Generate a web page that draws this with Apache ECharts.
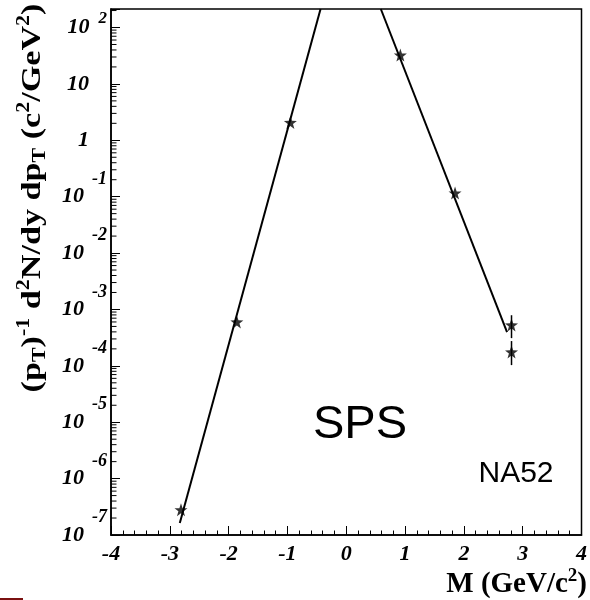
<!DOCTYPE html>
<html>
<head>
<meta charset="utf-8">
<script src="https://cdn.jsdelivr.net/npm/echarts@6/dist/echarts.min.js"></script>
<style>
  html, body { margin: 0; padding: 0; background: #fff; }
  #chart { width: 590px; height: 600px; }
</style>
</head>
<body>
<div id="chart"></div>
<script>
// Measured points, negative M side
const leftM = [-2.81, -1.86, -0.95];
const leftYield = [2.8e-7, 6.0e-4, 2.07];
// Measured points, positive M side
const rightM = [0.92, 1.85, 2.81, 2.81];
const rightYield = [32.4, 0.116, 5.3e-4, 1.76e-4];
// Vertical error bars on the last two points
const errM = [2.81, 2.81];
const errLow = [3.1e-4, 1.03e-4];
const errHigh = [7.9e-4, 2.75e-4];
// Exponential fits (straight lines on the log scale), end points
const fitLeftM = [-2.83, -0.437];
const fitLeftY = [1.63e-7, 213];
const fitRightM = [0.588, 2.734];
const fitRightY = [213, 3.98e-4];
// Axis ranges
const xMin = -4, xMax = 4;
const yMin = 1e-7, yMax = 213;

const SERIF = "'Liberation Serif', 'DejaVu Serif', serif";
const SANS = "'Liberation Sans', Arial, sans-serif";

// log-spaced minor tick values (2..9 x 10^n)
const minorTicks = [];
for (let e = -7; e <= 2; e++) {
  for (let k = 2; k <= 9; k++) {
    const v = k * Math.pow(10, e);
    if (v < yMax) minorTicks.push([xMin, v]);
  }
}

const STAR = 'path://M0,-10 L2.35,-3.24 L9.51,-3.09 L3.8,1.24 L5.88,8.09 L0,4 L-5.88,8.09 L-3.8,1.24 L-9.51,-3.09 L-2.35,-3.24 Z';

const tickFont = { fontFamily: SERIF, fontWeight: 'bold', fontStyle: 'italic', color: '#000' };

const chart = echarts.init(document.getElementById('chart'), null, { renderer: 'canvas' });

chart.setOption({
  backgroundColor: '#fff',
  animation: false,
  grid: {
    left: 111, top: 9, right: 3, bottom: 65,
    show: true, borderColor: '#000', borderWidth: 1.5, backgroundColor: 'transparent'
  },
  xAxis: {
    type: 'value', min: xMin, max: xMax, interval: 1,
    axisLine: { show: true, onZero: false, lineStyle: { color: '#000', width: 1.5 } },
    axisTick: { show: true, inside: true, length: 9, lineStyle: { color: '#000', width: 1 } },
    minorTick: { show: true, splitNumber: 5, length: 4.5, lineStyle: { color: '#000', width: 1 } },
    splitLine: { show: false },
    axisLabel: Object.assign({ fontSize: 22, margin: 8 }, tickFont)
  },
  yAxis: {
    type: 'log', logBase: 10, min: yMin, max: yMax,
    axisLine: { show: true, onZero: false, lineStyle: { color: '#000', width: 1.5 } },
    axisTick: { show: true, inside: true, length: 9, lineStyle: { color: '#000', width: 1 } },
    splitLine: { show: false },
    axisLabel: Object.assign({
      fontSize: 22, margin: 4,
      formatter: function (v) {
        const l = Math.log10(v);
        const e = Math.round(l);
        if (Math.abs(l - e) > 1e-6) return '';
        if (e === 0) return '{p|1}';
        if (e === 1) return '{p|10}';
        return '{b|10}{' + (e < 0 ? 'n' : 's') + '|' + e + '}';
      },
      rich: {
        b: Object.assign({ fontSize: 22 }, tickFont),
        p: Object.assign({ fontSize: 22, padding: [0, 18, 0, 0] }, tickFont),
        n: Object.assign({ fontSize: 18, padding: [0, 0, 35, 8] }, tickFont),
        s: Object.assign({ fontSize: 17, padding: [0, 0, 18, 9] }, tickFont)
      }
    }, tickFont)
  },
  series: [
    {
      name: 'minor y ticks', type: 'custom', silent: true, clip: false,
      data: minorTicks,
      renderItem: function (params, api) {
        const p = api.coord([api.value(0), api.value(1)]);
        return {
          type: 'line',
          shape: { x1: p[0], y1: p[1], x2: p[0] + 5.5, y2: p[1] },
          style: { stroke: '#000', lineWidth: 1 }
        };
      }
    },
    {
      name: 'fit left', type: 'line', clip: true, symbol: 'none',
      data: fitLeftM.map((m, i) => [m, fitLeftY[i]]),
      lineStyle: { color: '#000', width: 2 }
    },
    {
      name: 'fit right', type: 'line', clip: true, symbol: 'none',
      data: fitRightM.map((m, i) => [m, fitRightY[i]]),
      lineStyle: { color: '#000', width: 2 }
    },
    {
      name: 'errors', type: 'custom', silent: true,
      data: errM.map((m, i) => [m, errLow[i], errHigh[i]]),
      renderItem: function (params, api) {
        const a = api.coord([api.value(0), api.value(1)]);
        const b = api.coord([api.value(0), api.value(2)]);
        return {
          type: 'line',
          shape: { x1: a[0], y1: a[1], x2: b[0], y2: b[1] },
          style: { stroke: '#000', lineWidth: 1.5 }
        };
      }
    },
    {
      name: 'data left', type: 'scatter', symbol: STAR, symbolSize: 13,
      data: leftM.map((m, i) => [m, leftYield[i]]),
      itemStyle: { color: '#000' }
    },
    {
      name: 'data right', type: 'scatter', symbol: STAR, symbolSize: 13,
      data: rightM.map((m, i) => [m, rightYield[i]]),
      itemStyle: { color: '#000' }
    }
  ],
  graphic: [
    {
      type: 'text', x: 33, y: 198, rotation: Math.PI / 2, scaleX: 1.22,
      style: {
        text: '{n|(p}{sb|T}{n|)}{sp|-1}{n| d}{sp|2}{n|N/dy dp}{sb|T}{n| (c}{sp|2}{n|/GeV}{sp|2}{n|)}',
        align: 'center', verticalAlign: 'middle',
        rich: {
          n: { fontFamily: SERIF, fontWeight: 'bold', fontSize: 28, fill: '#000' },
          sp: { fontFamily: SERIF, fontWeight: 'bold', fontSize: 18, padding: [0, 0, 18, 0], fill: '#000' },
          sb: { fontFamily: SERIF, fontWeight: 'bold', fontSize: 18, padding: [14, 0, 0, 0], fill: '#000' }
        }
      }
    },
    {
      type: 'text', x: 587, y: 585,
      style: {
        text: '{n|M (GeV/c}{sp|2}{n|)}',
        align: 'right', verticalAlign: 'middle',
        rich: {
          n: { fontFamily: SERIF, fontWeight: 'bold', fontSize: 29, fill: '#000' },
          sp: { fontFamily: SERIF, fontWeight: 'bold', fontSize: 19, padding: [0, 0, 18, 0], fill: '#000' }
        }
      }
    },
    {
      type: 'text', x: 360, y: 425,
      style: { text: 'SPS', font: '47px ' + SANS, fill: '#000', align: 'center', verticalAlign: 'middle' }
    },
    {
      type: 'text', x: 516, y: 474,
      style: { text: 'NA52', font: '30px ' + SANS, fill: '#000', align: 'center', verticalAlign: 'middle' }
    },
    {
      type: 'rect', shape: { x: 0, y: 598, width: 23, height: 2 },
      style: { fill: '#7a1010' }
    }
  ]
});
</script>
</body>
</html>
